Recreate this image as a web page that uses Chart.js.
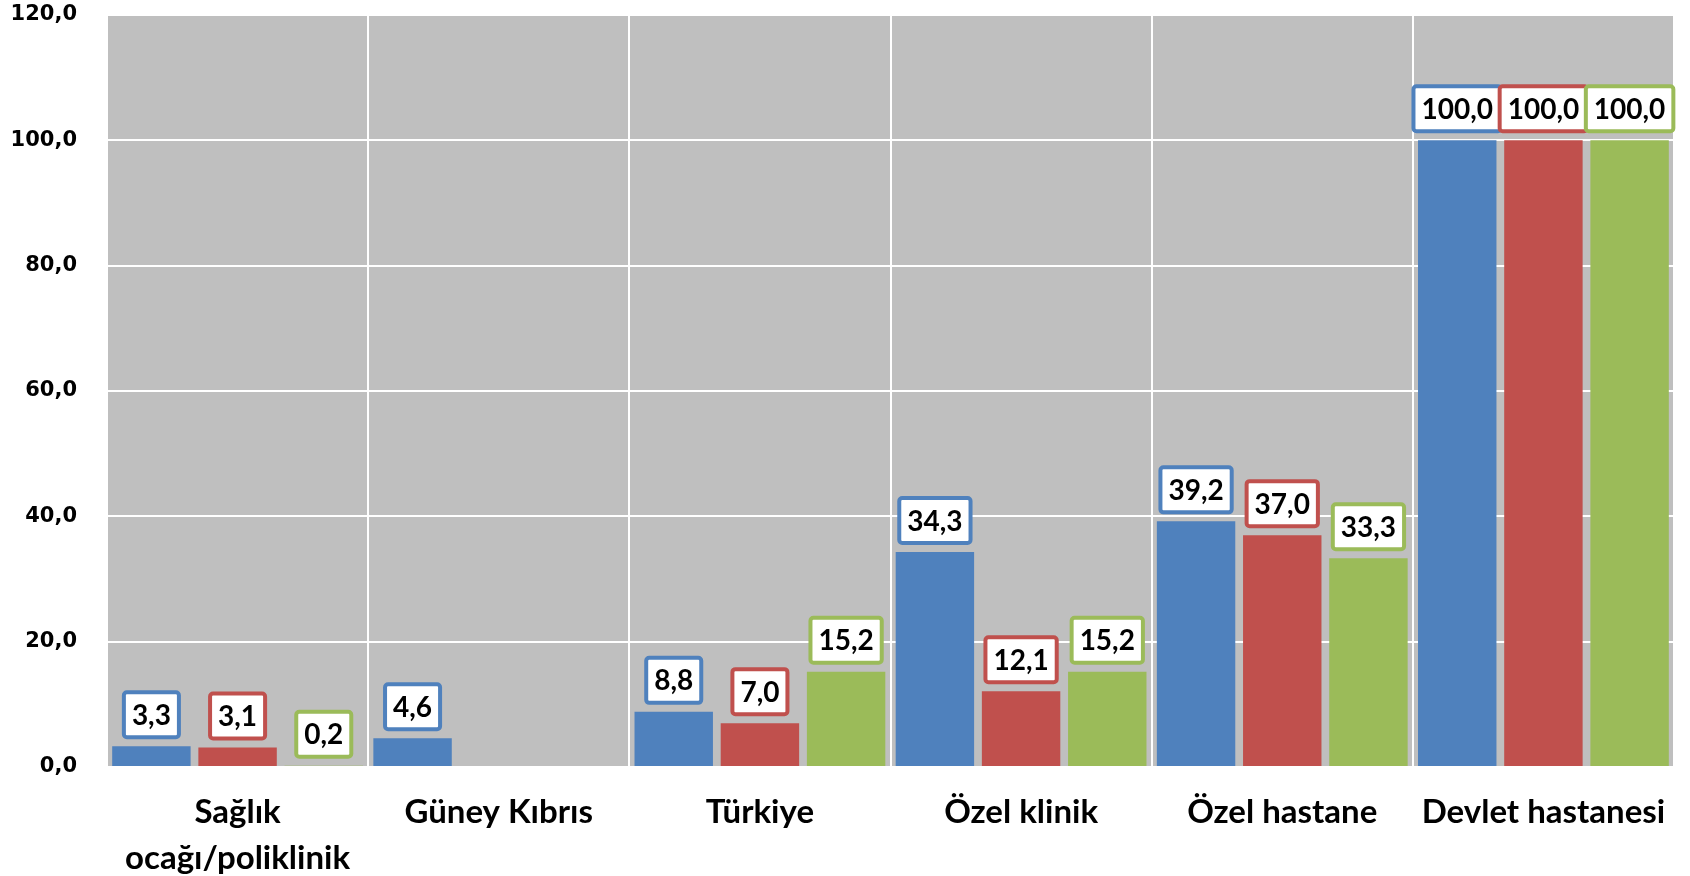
<!DOCTYPE html>
<html>
<head>
<meta charset="utf-8">
<script src="https://cdn.jsdelivr.net/npm/chart.js@4/dist/chart.umd.min.js"></script>
<style>
  html, body { margin: 0; padding: 0; background: #ffffff; }
  canvas { display: block; }
</style>
</head>
<body>
<canvas id="c" width="1690" height="876"></canvas>
<script>
const categories = [["Sağlık", "ocağı/poliklinik"], "Güney Kıbrıs", "Türkiye", "Özel klinik", "Özel hastane", "Devlet hastanesi"];
const seriesBlue  = [3.3, 4.6, 8.8, 34.3, 39.2, 100.0];
const seriesRed   = [3.1, null, 7.0, 12.1, 37.0, 100.0];
const seriesGreen = [0.2, null, 15.2, 15.2, 33.3, 100.0];
const yTicks = [0, 20, 40, 60, 80, 100, 120];

const colors = ["#4F81BD", "#C0504D", "#9BBB59"];
const fontFamily = "Lato, 'Open Sans', 'DejaVu Sans', sans-serif";
const tickFamily = "'DejaVu Sans', Lato, sans-serif";

function fmt(v) { return v.toFixed(1).replace('.', ','); }

const bgPlugin = {
  id: 'plotBg',
  beforeDraw(chart) {
    const a = chart.chartArea, ctx = chart.ctx;
    ctx.save();
    ctx.fillStyle = '#BFBFBF';
    ctx.fillRect(a.left, a.top, a.right - a.left, a.bottom - a.top);
    ctx.restore();
  }
};

const labelPlugin = {
  id: 'boxLabels',
  afterDatasetsDraw(chart) {
    const ctx = chart.ctx;
    ctx.save();
    ctx.font = "bold 28px " + fontFamily;
    ctx.textAlign = 'center';
    ctx.textBaseline = 'middle';
    chart.data.datasets.forEach((ds, di) => {
      const meta = chart.getDatasetMeta(di);
      meta.data.forEach((el, i) => {
        const v = ds.data[i];
        if (v === null || v === undefined) return;
        const txt = fmt(v);
        const tw = ctx.measureText(txt).width;
        const w = tw + 16, h = 45;
        const x = el.x - w / 2;
        const yb = el.y - 9;
        const y = yb - h;
        ctx.beginPath();
        if (ctx.roundRect) ctx.roundRect(x, y, w, h, 3); else ctx.rect(x, y, w, h);
        ctx.fillStyle = '#ffffff';
        ctx.fill();
        ctx.lineWidth = 4;
        ctx.strokeStyle = ds.backgroundColor;
        ctx.stroke();
        ctx.fillStyle = '#000000';
        ctx.fillText(txt, el.x, y + h / 2 + 1);
      });
    });
    ctx.restore();
  }
};

new Chart(document.getElementById('c'), {
  type: 'bar',
  data: {
    labels: categories,
    datasets: [
      { label: 'A', data: seriesBlue,  backgroundColor: colors[0] },
      { label: 'B', data: seriesRed,   backgroundColor: colors[1] },
      { label: 'C', data: seriesGreen, backgroundColor: colors[2] }
    ]
  },
  options: {
    responsive: false,
    animation: false,
    devicePixelRatio: 1,
    layout: { padding: { top: 15, right: 16, left: 0, bottom: 0 } },
    datasets: { bar: { categoryPercentage: 0.99, barPercentage: 0.91 } },
    plugins: { legend: { display: false }, tooltip: { enabled: false } },
    scales: {
      x: {
        grid: { color: '#ffffff', lineWidth: 2, offset: true, drawTicks: false },
        border: { display: false },
        ticks: {
          color: '#000000',
          font: { family: fontFamily, size: 33, weight: 'bold', lineHeight: 1.4 },
          padding: 22,
          maxRotation: 0,
          autoSkip: false
        },
        afterFit(scale) { scale.height = 109; scale.paddingLeft = 0; scale.paddingRight = 0; }
      },
      y: {
        min: 0, max: 120,
        afterBuildTicks(scale) { scale.ticks = yTicks.map(v => ({ value: v })); },
        grid: { color: '#ffffff', lineWidth: 2, drawTicks: false },
        border: { display: false },
        ticks: {
          color: '#000000',
          font: { family: tickFamily, size: 21, weight: 'bold' },
          padding: 30,
          callback: (v) => fmt(v)
        },
        afterFit(scale) { scale.width = 107; scale.paddingTop = 0; scale.paddingBottom = 0; }
      }
    }
  },
  plugins: [bgPlugin, labelPlugin]
});
</script>
</body>
</html>
